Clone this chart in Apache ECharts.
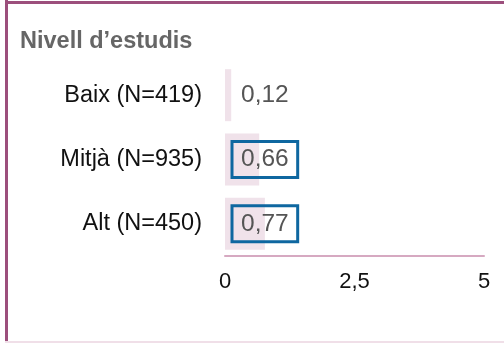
<!DOCTYPE html>
<html><head><meta charset="utf-8">
<script src="https://cdn.jsdelivr.net/npm/echarts@6/dist/echarts.min.js"></script>
<style>html,body{margin:0;padding:0;background:#fff}#c{width:504px;height:343px}</style>
</head><body><div id="c"></div>
<script>
const titleText = 'Nivell d’estudis';
const categories = ['Baix (N=419)', 'Mitjà (N=935)', 'Alt (N=450)'];
const values = [0.12, 0.66, 0.77];
const highlighted = [false, true, true];
const xTicks = [0, 2.5, 5];

const chart = echarts.init(document.getElementById('c'), null, {renderer: 'canvas'});
const fmt = v => String(v).replace('.', ',');
const FONT = 'Liberation Sans, Arial, sans-serif';
chart.setOption({
  animation: false,
  graphic: [
    {type: 'rect', shape: {x: 5, y: 0, width: 3, height: 343}, style: {fill: '#9c4f7c'}},
    {type: 'rect', shape: {x: 5, y: 1, width: 499, height: 3}, style: {fill: '#9c4f7c'}},
    {type: 'rect', shape: {x: 5, y: 341, width: 499, height: 2}, style: {fill: '#f0dfe8'}}
  ],
  title: {
    text: titleText, left: 15, top: 25,
    textStyle: {fontFamily: FONT, fontSize: 23.5, fontWeight: 'bold', color: '#666'}
  },
  grid: {left: 225, right: 20, top: 63, bottom: 87, containLabel: false},
  xAxis: {
    type: 'value', min: xTicks[0], max: xTicks[xTicks.length - 1], interval: 2.5,
    axisLine: {show: true, lineStyle: {color: '#d6a9c1', width: 2}},
    axisTick: {show: false}, splitLine: {show: false},
    axisLabel: {formatter: fmt, color: '#111', fontFamily: FONT, fontSize: 22, margin: 15}
  },
  yAxis: {
    type: 'category', data: categories, inverse: true,
    axisLine: {show: false}, axisTick: {show: false},
    axisLabel: {color: '#111', fontFamily: FONT, fontSize: 23.5, margin: 23}
  },
  series: [{
    type: 'bar', barWidth: 52,
    itemStyle: {color: '#f0e2ea'},
    data: values.map((v, i) => ({
      value: v,
      label: highlighted[i]
        ? {borderColor: '#0e67a0', borderWidth: 3, padding: [6, 9, 5, 9]}
        : {borderWidth: 0, padding: [6, 9, 5, 9]}
    })),
    label: {
      show: true, position: [7, '50%'], align: 'left', verticalAlign: 'middle',
      formatter: p => fmt(p.value), color: '#555', fontFamily: FONT, fontSize: 24.5, lineHeight: 25
    }
  }]
});
</script></body></html>
